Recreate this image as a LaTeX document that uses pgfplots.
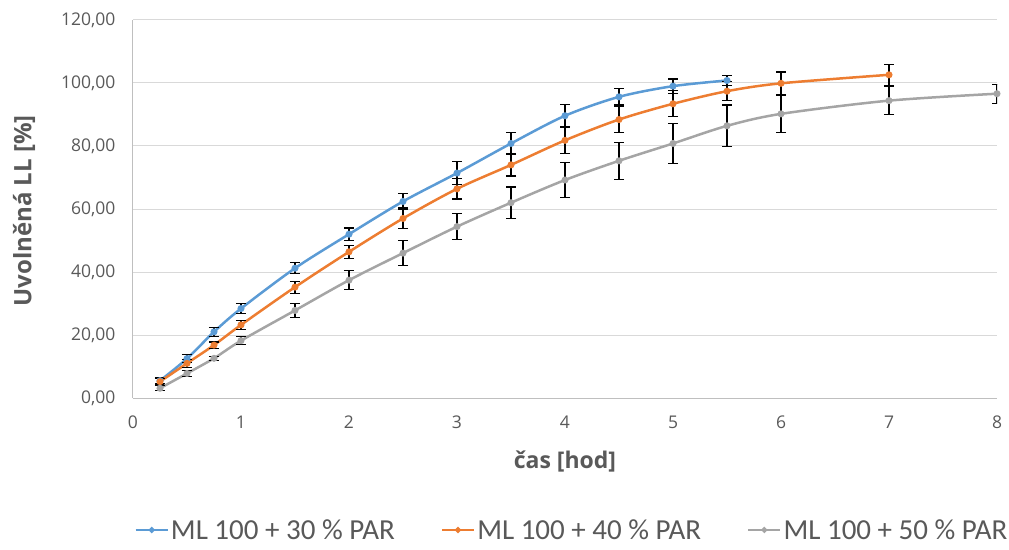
\documentclass[border=0pt]{standalone}
\usepackage{pgfplots}
\pgfplotsset{compat=1.18}
\usepackage{pgfplotstable}
\usepackage{fontspec}
\setmainfont{Open Sans}
\newfontfamily\legfont{Carlito}
\definecolor{sblue}{HTML}{5B9BD5}
\definecolor{sorange}{HTML}{ED7D31}
\definecolor{sgray}{HTML}{A5A5A5}
\definecolor{txt}{HTML}{595959}
\definecolor{gridc}{HTML}{D9D9D9}
\definecolor{axc}{HTML}{BFBFBF}

\pgfplotstableread{
x y e
0.25 5.5 1.0
0.5 12.5 1.2
0.75 21.0 1.5
1 28.4 1.5
1.5 41.2 1.8
2 52.0 2.0
2.5 62.4 2.6
3 71.4 3.7
3.5 80.8 3.4
4 89.6 3.5
4.5 95.6 2.6
5 99.0 2.3
5.5 100.8 1.5
}\dataA
\pgfplotstableread{
x y e
0.25 5.2 1.0
0.5 11.0 1.2
0.75 16.8 1.0
1 23.2 1.5
1.5 35.2 1.9
2 46.4 2.0
2.5 57.0 3.3
3 66.4 3.2
3.5 74.0 3.5
4 81.8 4.1
4.5 88.4 4.2
5 93.4 4.1
5.5 97.4 3.0
6 99.9 3.6
7 102.6 3.3
}\dataB
\pgfplotstableread{
x y e
0.25 3.1 0.8
0.5 7.8 1.0
0.75 12.6 0.6
1 18.2 1.2
1.5 27.8 2.3
2 37.4 3.0
2.5 46.0 3.9
3 54.4 4.2
3.5 62.0 5.0
4 69.2 5.6
4.5 75.3 5.9
5 80.8 6.3
5.5 86.4 6.6
6 90.2 6.0
7 94.4 4.5
8 96.6 3.0
}\dataC

\begin{document}
\begin{tikzpicture}
\useasboundingbox (-133bp,-152bp) rectangle (876bp,398bp);
\begin{axis}[
  scale only axis,
  width=864bp, height=378bp,
  xmin=0, xmax=8, ymin=0, ymax=120,
  xtick={0,1,...,8},
  ytick={0,20,...,120},
  axis x line*=bottom,
  axis y line*=left,
  axis line style={draw=axc, line width=1bp},
  ymajorgrids,
  grid style={draw=gridc, line width=1bp},
  major tick length=0pt,
  /pgf/number format/assume math mode=true,
  yticklabel={\pgfmathprintnumber[fixed, fixed zerofill, precision=2, use comma]{\tick}},
  tick label style={font=\fontsize{17.5bp}{21bp}\selectfont, text=txt},
  yticklabel style={xshift=-14bp},
  xticklabel style={yshift=-14bp},
  xlabel={čas [hod]},
  ylabel={Uvolněná LL [\%]},
  every axis y label/.style={at={(axis description cs:-0.126,0.495)}, rotate=90, anchor=center,
    font=\fontsize{24bp}{28bp}\selectfont\bfseries, text=txt},
  every axis x label/.style={at={(axis description cs:0.5,-0.169)}, anchor=center,
    font=\fontsize{23bp}{28bp}\selectfont\bfseries, text=txt},
  legend style={draw=none, at={(0.508,-0.349)}, anchor=center, font=\legfont\fontsize{29bp}{33bp}\selectfont, text=txt,
    /tikz/every even column/.append style={column sep=44bp}},
  legend columns=3,
  legend image code/.code={\draw[#1, mark size=1.6bp, mark repeat=2, mark phase=2] plot coordinates {(0bp,0bp) (16bp,0bp) (32bp,0bp)};},
  every axis plot/.append style={line width=2.5bp, smooth, tension=0.5, mark=*, mark size=2.2bp},
  error bars/y dir=both, error bars/y explicit,
  error bars/error bar style={black, line width=1.2bp},
  error bars/error mark options={black, mark size=5bp, line width=1.2bp, rotate=90},
]
\addplot[color=sblue, mark options={fill=sblue, draw=sblue}] table[x=x, y=y, y error=e] {\dataA};
\addlegendentry{ML 100 + 30 \% PAR}
\addplot[color=sorange, mark options={fill=sorange, draw=sorange}] table[x=x, y=y, y error=e] {\dataB};
\addlegendentry{ML 100 + 40 \% PAR}
\addplot[color=sgray, mark options={fill=sgray, draw=sgray}] table[x=x, y=y, y error=e] {\dataC};
\addlegendentry{ML 100 + 50 \% PAR}
\end{axis}
\end{tikzpicture}
\end{document}
